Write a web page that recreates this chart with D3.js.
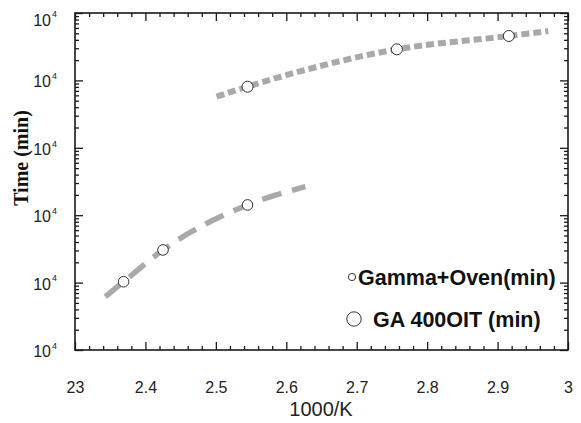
<!DOCTYPE html>
<html>
<head>
<meta charset="utf-8">
<script src="https://cdn.jsdelivr.net/npm/d3@7"></script>
<style>
  body { margin: 0; background: #fff; }
  svg { display: block; }
  .sans { font-family: Arial, "Liberation Sans", sans-serif; }
</style>
</head>
<body>
<svg id="chart" width="581" height="423"></svg>
<script>
// Measured points (1000/K, time in minutes)
const gammaX = [2.369, 2.425, 2.545];
const gammaY = [10.3, 30.5, 142];
const gaX = [2.545, 2.757, 2.916];
const gaY = [8070, 28900, 45600];

// Trend curves drawn through each series
const gammaFitX = [2.343, 2.369, 2.425, 2.545, 2.627];
const gammaFitY = [6.2, 10.3, 30.5, 142, 265];
const gaFitX = [2.501, 2.545, 2.757, 2.916, 2.972];
const gaFitY = [5730, 8070, 28900, 45600, 54000];

// Axis ticks and their labels
const xTicks = [2.3, 2.4, 2.5, 2.6, 2.7, 2.8, 2.9, 3.0];
const xTickLabels = ["23", "2.4", "2.5", "2.6", "2.7", "2.8", "2.9", "3"];
const yTicks = [1, 10, 100, 1000, 10000, 100000];
const yTickBase = ["10", "10", "10", "10", "10", "10"];
const yTickExp = ["4", "4", "4", "4", "4", "4"];

const seriesNames = ["Gamma+Oven(min)", "GA 400OIT (min)"];

const svg = d3.select("#chart");
const plotLeft = 75, plotRight = 568, plotTop = 13, plotBottom = 350;

const x = d3.scaleLinear().domain([2.3, 3.0]).range([plotLeft, plotRight]);
const y = d3.scaleLog().domain([1, 1e5]).range([plotBottom, plotTop]);

// minor tick positions
const xMinor = d3.range(2.3, 3.0001, 0.02).map(v => +v.toFixed(2)).filter(v => !xTicks.some(t => Math.abs(t - v) < 1e-6));
const yMinor = [];
for (let d = 0; d < 5; d++) for (let k = 2; k <= 9; k++) yMinor.push(k * Math.pow(10, d));

const axisColor = "#1a1a1a";

function styleAxis(g) {
  g.attr("font-family", null).attr("font-size", null);
  g.select(".domain").remove();
  g.selectAll(".tick line").attr("stroke", axisColor).attr("stroke-width", 1.3);
}

// bottom axis with labels
svg.append("g").attr("transform", `translate(0,${plotBottom})`)
  .call(d3.axisBottom(x).tickValues(xTicks).tickSize(-8).tickPadding(32)
    .tickFormat((d, i) => xTickLabels[i]))
  .call(styleAxis)
  .call(g => g.selectAll("text").attr("class", "sans").attr("font-size", 16).attr("fill", "#222"));
svg.append("g").attr("transform", `translate(0,${plotBottom})`)
  .call(d3.axisBottom(x).tickValues(xMinor).tickSize(-4).tickFormat(""))
  .call(styleAxis);

// top axis
svg.append("g").attr("transform", `translate(0,${plotTop})`)
  .call(d3.axisTop(x).tickValues(xTicks).tickSize(-8).tickFormat(""))
  .call(styleAxis);
svg.append("g").attr("transform", `translate(0,${plotTop})`)
  .call(d3.axisTop(x).tickValues(xMinor).tickSize(-4).tickFormat(""))
  .call(styleAxis);

// left axis with labels
const leftAxis = svg.append("g").attr("transform", `translate(${plotLeft},0)`)
  .call(d3.axisLeft(y).tickValues(yTicks).tickSize(-8).tickPadding(18).tickFormat(""))
  .call(styleAxis);
leftAxis.selectAll(".tick text").each(function (d, i) {
  const t = d3.select(this).attr("class", "sans").attr("font-size", 16).attr("fill", "#222")
    .attr("dy", i === yTicks.length - 1 ? "0.75em" : "0.4em");
  t.append("tspan").text(yTickBase[i]);
  t.append("tspan").attr("font-size", 9).attr("dy", "-0.9em").attr("dx", "1").text(yTickExp[i]);
});
svg.append("g").attr("transform", `translate(${plotLeft},0)`)
  .call(d3.axisLeft(y).tickValues(yMinor).tickSize(-4).tickFormat(""))
  .call(styleAxis);

// right axis
svg.append("g").attr("transform", `translate(${plotRight},0)`)
  .call(d3.axisRight(y).tickValues(yTicks).tickSize(-8).tickFormat(""))
  .call(styleAxis);
svg.append("g").attr("transform", `translate(${plotRight},0)`)
  .call(d3.axisRight(y).tickValues(yMinor).tickSize(-4).tickFormat(""))
  .call(styleAxis);

// frame
svg.append("rect").attr("x", plotLeft).attr("y", plotTop)
  .attr("width", plotRight - plotLeft).attr("height", plotBottom - plotTop)
  .attr("fill", "none").attr("stroke", axisColor).attr("stroke-width", 1.6);

// trend curves
const line = d3.line().x(d => x(d[0])).y(d => y(d[1])).curve(d3.curveMonotoneX);
svg.append("path").datum(d3.zip(gammaFitX, gammaFitY))
  .attr("d", line).attr("fill", "none").attr("stroke", "#a9a9a9")
  .attr("stroke-width", 5.5).attr("stroke-dasharray", "20,11");
svg.append("path").datum(d3.zip(gaFitX, gaFitY))
  .attr("d", line).attr("fill", "none").attr("stroke", "#a9a9a9")
  .attr("stroke-width", 6).attr("stroke-dasharray", "8,4");

// data markers
svg.append("g").selectAll("circle").data(d3.zip(gammaX, gammaY)).join("circle")
  .attr("cx", d => x(d[0])).attr("cy", d => y(d[1])).attr("r", 5.3)
  .attr("fill", "#fff").attr("stroke", "#333").attr("stroke-width", 1);
svg.append("g").selectAll("circle").data(d3.zip(gaX, gaY)).join("circle")
  .attr("cx", d => x(d[0])).attr("cy", d => y(d[1])).attr("r", 5.5)
  .attr("fill", "#fff").attr("stroke", "#333").attr("stroke-width", 1);

// legend
const legend = svg.append("g").attr("class", "sans");
legend.append("circle").attr("cx", 352).attr("cy", 277).attr("r", 3.6)
  .attr("fill", "#fff").attr("stroke", "#333").attr("stroke-width", 1);
legend.append("text").attr("x", 358).attr("y", 285).attr("font-size", 21.5)
  .attr("font-weight", "bold").attr("fill", "#111").text(seriesNames[0]);
legend.append("circle").attr("cx", 354).attr("cy", 319).attr("r", 7.2)
  .attr("fill", "#fff").attr("stroke", "#333").attr("stroke-width", 1);
legend.append("text").attr("x", 373).attr("y", 327).attr("font-size", 21.5)
  .attr("font-weight", "bold").attr("fill", "#111").text(seriesNames[1]);

// axis titles
svg.append("text").attr("class", "sans").attr("x", 321).attr("y", 416)
  .attr("text-anchor", "middle").attr("font-size", 20).attr("fill", "#222").text("1000/K");
svg.append("text").attr("transform", "translate(28,158) rotate(-90)")
  .attr("text-anchor", "middle").attr("font-family", "'Times New Roman', 'Liberation Serif', serif")
  .attr("font-weight", "bold").attr("font-size", 20).attr("fill", "#111").text("Time (min)");
</script>
</body>
</html>
